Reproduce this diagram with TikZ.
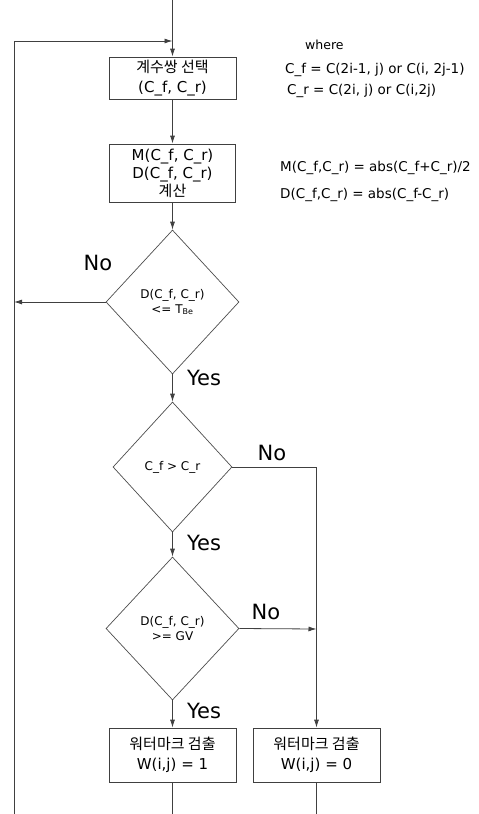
\documentclass[tikz,border=0pt]{standalone}
\usepackage{fontspec}
\setmainfont{DejaVu Sans}
\newfontfamily\kr{Noto Sans CJK KR}
\usetikzlibrary{shapes.geometric,arrows.meta}
\begin{document}
\begin{tikzpicture}[x=1pt,y=-1pt,
  box/.style={draw=black!75, line width=0.8pt, rectangle, inner sep=0pt, align=center, font=\fontsize{15}{20}\selectfont},
  dia/.style={draw=black!70, line width=0.7pt, diamond, inner sep=0pt, align=center, font=\fontsize{12}{15}\selectfont},
  arr/.style={draw=black!75, line width=0.8pt, -{Latex[length=8pt,width=5pt]}},
  ln/.style={draw=black!75, line width=0.8pt},
  lab/.style={font=\fontsize{21}{21}\selectfont, inner sep=0pt},
  note/.style={font=\fontsize{13.5}{16}\selectfont, anchor=west, inner sep=0pt}]
\useasboundingbox (0,0) rectangle (479,814);

% nodes
\node[box, minimum width=127pt, minimum height=42pt] (b1) at (172.5,78) {{\kr 계수쌍 선택}\\(C\_f, C\_r)};
\node[box, minimum width=126pt, minimum height=58pt, font=\fontsize{15}{18}\selectfont] (b2) at (172.5,173) {M(C\_f, C\_r)\\D(C\_f, C\_r)\\{\kr 계산}};
\node[dia, minimum width=133pt, minimum height=144pt] (d1) at (172.5,302) {D(C\_f, C\_r)\\\rule{0pt}{10pt}<= T\textsubscript{Be}};
\node[dia, minimum width=119pt, minimum height=130pt] (d2) at (172.5,467) {C\_f > C\_r};
\node[dia, minimum width=133pt, minimum height=143pt] (d3) at (172.5,628.5) {D(C\_f, C\_r)\\>= GV};
\node[box, minimum width=127pt, minimum height=54pt] (b3) at (172.5,755) {{\kr 워터마크 검출}\\W(i,j) = 1};
\node[box, minimum width=127pt, minimum height=54pt] (b4) at (316.5,755) {{\kr 워터마크 검출}\\W(i,j) = 0};

% coordinates
\coordinate (top) at (172.5,0);
\coordinate (join) at (172.5,41);
\coordinate (lb) at (14,814);
\coordinate (l1) at (14,302);
\coordinate (r2) at (316.5,629);
\coordinate (e3) at (172.5,814);
\coordinate (e4) at (316.5,814);

% connectors
\draw[arr] (top) -- (b1);
\draw[arr] (lb) |- (join);
\draw[arr] (b1) -- (b2);
\draw[arr] (b2) -- (d1);
\draw[arr] (d1.west) -- (l1);
\draw[arr] (d1.south) -- (d2.north);
\draw[arr] (d2.east) -| (b4.north);
\draw[arr] (d2.south) -- (d3.north);
\draw[arr] (d3.east) -- (r2);
\draw[arr] (d3.south) -- (b3.north);
\draw[ln] (b3.south) -- (e3);
\draw[ln] (b4.south) -- (e4);

% labels
\node[lab] (no1) at (98,263) {No};
\node[lab] (yes1) at (204,378) {Yes};
\node[lab] (no2) at (272,453) {No};
\node[lab] (yes2) at (204,543) {Yes};
\node[lab] (no3) at (266,612) {No};
\node[lab] (yes3) at (204,711) {Yes};

% notes
\node[note, font=\fontsize{12.5}{15}\selectfont] (w) at (305,45) {where};
\node[note] (n1) at (285,70) {C\_f = C(2i-1, j) or C(i, 2j-1)};
\node[note] (n2) at (287,91) {C\_r = C(2i, j) or C(i,2j)};
\node[note] (n3) at (280,168) {M(C\_f,C\_r) = abs(C\_f+C\_r)/2};
\node[note] (n4) at (280,195) {D(C\_f,C\_r) = abs(C\_f-C\_r)};
\end{tikzpicture}
\end{document}
